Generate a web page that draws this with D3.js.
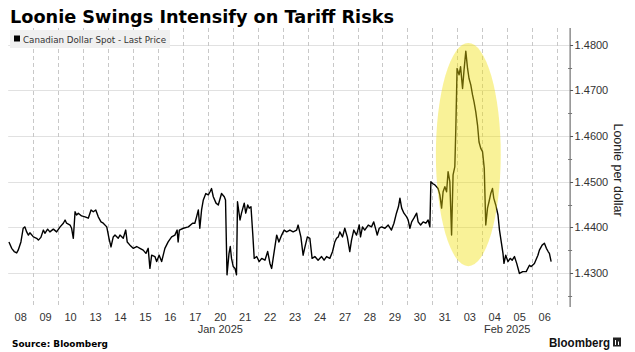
<!DOCTYPE html>
<html>
<head>
<meta charset="utf-8">
<script src="https://cdn.jsdelivr.net/npm/d3@7/dist/d3.min.js"></script>
<style>
  html, body { margin: 0; padding: 0; background: #fff; }
  svg { display: block; }
</style>
</head>
<body>
<svg id="chart" width="635" height="352"></svg>
<script>
// ---- Data ----
const title = "Loonie Swings Intensify on Tariff Risks";
const seriesName = "Canadian Dollar Spot - Last Price";
const yAxisTitle = "Loonie per dollar";
const dayLabels = ["08","09","10","13","14","15","16","17","20","21","22","23","24","27","28","29","30","31","03","04","05","06"];
const monthLabels = ["Jan 2025", "Feb 2025"];
const monthAnchor = [8.5, 20.0];          // in trading-day units
const yTicks = [1.43, 1.44, 1.45, 1.46, 1.47, 1.48];
const yMinorTicks = [1.425, 1.435, 1.445, 1.455, 1.465, 1.475];
const highlightWindow = [17.14, 19.74];   // trading-day span of highlight
const highlightRange = [1.4315, 1.4804];  // price span of highlight

// time in trading days since Jan 08 open
const dayPos = [0.03,0.14,0.24,0.34,0.40,0.51,0.60,0.67,0.74,0.81,0.87,1.01,1.14,1.21,1.31,1.41,1.47,1.58,1.67,1.81,1.94,
2.08,2.21,2.28,2.34,2.48,2.54,2.61,2.68,2.74,2.81,2.94,3.08,3.21,3.32,3.41,3.51,3.61,3.72,3.81,3.95,
4.04,4.12,4.21,4.28,4.41,4.48,4.61,4.71,4.77,4.88,5.01,5.15,5.28,5.41,5.52,5.61,5.68,5.75,5.88,5.95,
6.05,6.15,6.28,6.41,6.55,6.68,6.77,6.81,6.86,7.02,7.22,7.39,7.48,7.55,7.62,7.68,7.75,7.82,7.92,
8.02,8.09,8.15,8.22,8.33,8.42,8.55,8.66,8.71,8.77,8.85,8.90,8.95,9.02,9.09,9.15,9.19,9.29,9.35,9.46,9.52,9.60,9.66,9.73,9.80,9.86,9.96,
10.06,10.16,10.29,10.40,10.49,10.56,10.66,10.76,10.85,10.96,11.06,11.16,11.29,11.42,11.56,11.62,11.73,11.82,11.88,11.99,
12.09,12.18,12.29,12.42,12.56,12.66,12.76,12.89,13.00,13.09,13.16,13.23,13.29,13.40,13.49,13.59,13.69,13.76,13.85,13.96,
14.07,14.12,14.20,14.29,14.43,14.56,14.65,14.74,14.79,14.87,14.96,15.10,15.23,15.36,15.46,15.56,15.64,15.70,15.77,15.86,15.97,
16.03,16.10,16.17,16.26,16.37,16.43,16.53,16.63,16.74,16.83,16.90,16.94,17.01,17.10,17.23,17.30,17.37,17.43,17.50,17.57,17.63,17.70,17.77,17.83,17.90,17.94,17.99,
18.07,18.13,18.21,18.27,18.34,18.41,18.47,18.54,18.61,18.67,18.74,18.81,18.87,18.94,19.01,19.08,19.14,19.21,19.27,19.34,19.41,19.46,19.54,19.63,19.69,19.77,19.83,19.87,19.94,
20.03,20.12,20.20,20.29,20.38,20.49,20.62,20.76,20.89,20.96,21.09,21.23,21.29,21.40,21.49,21.57,21.64,21.69,21.76];

const price = [1.4368,1.4354,1.4347,1.4344,1.4350,1.4368,1.4398,1.4401,1.4390,1.4383,1.4388,1.4379,1.4376,1.4372,1.4378,1.4394,1.4387,1.4396,1.4390,1.4396,1.4390,
1.4401,1.4409,1.4416,1.4409,1.4405,1.4398,1.4376,1.4434,1.4427,1.4431,1.4425,1.4423,1.4420,1.4438,1.4434,1.4438,1.4423,1.4412,1.4409,1.4401,
1.4376,1.4357,1.4379,1.4383,1.4376,1.4383,1.4376,1.4394,1.4368,1.4361,1.4354,1.4358,1.4354,1.4350,1.4343,1.4354,1.4310,1.4339,1.4336,1.4325,
1.4339,1.4325,1.4354,1.4368,1.4379,1.4383,1.4394,1.4368,1.4394,1.4398,1.4401,1.4409,1.4409,1.4423,1.4438,1.4398,1.4438,1.4460,1.4474,
1.4471,1.4478,1.4485,1.4467,1.4453,1.4449,1.4474,1.4467,1.4460,1.4296,1.4343,1.4358,1.4332,1.4314,1.4310,1.4296,1.4456,1.4416,1.4431,1.4453,1.4431,1.4449,1.4442,1.4445,1.4387,1.4332,1.4336,
1.4325,1.4332,1.4328,1.4347,1.4321,1.4310,1.4347,1.4383,1.4368,1.4383,1.4394,1.4390,1.4394,1.4390,1.4394,1.4405,1.4379,1.4339,1.4354,1.4379,
1.4376,1.4332,1.4336,1.4328,1.4336,1.4328,1.4336,1.4332,1.4347,1.4368,1.4376,1.4379,1.4390,1.4379,1.4398,1.4379,1.4347,1.4372,1.4394,1.4383,
1.4405,1.4379,1.4401,1.4394,1.4405,1.4401,1.4412,1.4394,1.4383,1.4398,1.4401,1.4398,1.4405,1.4394,1.4409,1.4431,1.4445,1.4464,1.4442,1.4431,1.4423,
1.4416,1.4398,1.4412,1.4420,1.4431,1.4412,1.4405,1.4412,1.4409,1.4416,1.4401,1.4500,1.4496,1.4493,1.4485,1.4471,1.4442,1.4478,1.4489,1.4478,1.4522,1.4500,1.4383,1.4515,1.4533,1.4617,1.4748,
1.4734,1.4752,1.4704,1.4745,1.4786,1.4748,1.4726,1.4712,1.4690,1.4675,1.4653,1.4624,1.4587,1.4573,1.4566,1.4529,1.4405,1.4442,1.4456,1.4474,1.4485,1.4464,1.4449,1.4427,1.4394,1.4365,1.4343,1.4321,1.4339,
1.4325,1.4332,1.4328,1.4336,1.4321,1.4299,1.4303,1.4303,1.4317,1.4314,1.4321,1.4339,1.4350,1.4361,1.4365,1.4354,1.4347,1.4343,1.4325];

// ---- Layout ----
const svg = d3.select("#chart");
const plot = { left: 8.2, right: 569.6, top: 28, bottom: 307 };

const x = d3.scaleLinear().domain([0, 22.5]).range([plot.left, plot.right]);
const y = d3.scaleLinear().domain([1.42255, 1.48366]).range([plot.bottom, plot.top]);

const points = dayPos.map((t, i) => [t, price[i]]);

// Horizontal gridlines
svg.append("g").selectAll("line").data(yTicks).join("line")
  .attr("x1", plot.left).attr("x2", plot.right)
  .attr("y1", d => Math.round(y(d)) + 0.5).attr("y2", d => Math.round(y(d)) + 0.5)
  .attr("stroke", "#e1e1e1").attr("stroke-width", 1);

// Vertical dashed day separators
const seps = d3.range(1, dayLabels.length + 1);
svg.append("g").selectAll("line").data(seps).join("line")
  .attr("x1", d => Math.round(x(d)) + 0.5).attr("x2", d => Math.round(x(d)) + 0.5)
  .attr("y1", plot.top).attr("y2", plot.bottom)
  .attr("stroke", "#c8c8c8").attr("stroke-width", 1)
  .attr("stroke-dasharray", "4,3");

// Price line
svg.append("path")
  .datum(points)
  .attr("fill", "none")
  .attr("stroke", "#000")
  .attr("stroke-width", 1.4)
  .attr("stroke-linejoin", "round")
  .attr("d", d3.line().x(d => x(d[0])).y(d => y(d[1])));

// Highlight ellipse (semi-transparent, over the line)
const ex0 = x(highlightWindow[0]), ex1 = x(highlightWindow[1]);
const ey0 = y(highlightRange[1]), ey1 = y(highlightRange[0]);
svg.append("ellipse")
  .attr("cx", (ex0 + ex1) / 2).attr("cy", (ey0 + ey1) / 2)
  .attr("rx", (ex1 - ex0) / 2).attr("ry", (ey1 - ey0) / 2)
  .attr("fill", "rgb(240,225,10)").attr("fill-opacity", 0.42);

// Right axis
const axisX = plot.right + 0.5;
svg.append("line")
  .attr("x1", axisX).attr("x2", axisX)
  .attr("y1", plot.top).attr("y2", plot.bottom)
  .attr("stroke", "#555").attr("stroke-width", 1);

const yAxisG = svg.append("g");
yAxisG.selectAll("line.major").data(yTicks).join("line")
  .attr("class", "major")
  .attr("x1", axisX).attr("x2", axisX + 3)
  .attr("y1", d => Math.round(y(d)) + 0.5).attr("y2", d => Math.round(y(d)) + 0.5)
  .attr("stroke", "#555");
yAxisG.selectAll("line.minor").data(yMinorTicks).join("line")
  .attr("class", "minor")
  .attr("x1", axisX - 2).attr("x2", axisX + 2)
  .attr("y1", d => Math.round(y(d)) + 0.5).attr("y2", d => Math.round(y(d)) + 0.5)
  .attr("stroke", "#777");
yAxisG.selectAll("text").data(yTicks).join("text")
  .attr("x", axisX + 4.5)
  .attr("y", d => y(d) + 4)
  .attr("font-family", "'Liberation Sans', Arial, sans-serif")
  .attr("font-size", 11)
  .attr("fill", "#333")
  .text(d => d3.format(".4f")(d));

// Y axis title
svg.append("text")
  .attr("transform", `translate(614, 170) rotate(90)`)
  .attr("text-anchor", "middle")
  .attr("font-family", "'Liberation Sans', Arial, sans-serif")
  .attr("font-size", 12.5)
  .attr("fill", "#222")
  .text(yAxisTitle);

// X labels
svg.append("g").selectAll("text").data(dayLabels).join("text")
  .attr("x", (d, i) => x(i + 0.5))
  .attr("y", 321)
  .attr("text-anchor", "middle")
  .attr("font-family", "'Liberation Sans', Arial, sans-serif")
  .attr("font-size", 11)
  .attr("fill", "#333")
  .text(d => d);

svg.append("g").selectAll("text").data(monthLabels).join("text")
  .attr("x", (d, i) => x(monthAnchor[i]))
  .attr("y", 333)
  .attr("text-anchor", "middle")
  .attr("font-family", "'Liberation Sans', Arial, sans-serif")
  .attr("font-size", 11)
  .attr("fill", "#333")
  .text(d => d);

// Legend box
const lg = svg.append("g");
lg.append("rect").attr("x", 10).attr("y", 30).attr("width", 160).attr("height", 18)
  .attr("fill", "#f0f0f0");
lg.append("rect").attr("x", 14).attr("y", 35.5).attr("width", 6).attr("height", 6)
  .attr("fill", "#000");
lg.append("text").attr("x", 23).attr("y", 42.5)
  .attr("font-family", "'DejaVu Sans', Verdana, sans-serif")
  .attr("font-size", 9)
  .attr("fill", "#333")
  .attr("textLength", 143).attr("lengthAdjust", "spacingAndGlyphs")
  .text(seriesName);

// Title
svg.append("text")
  .attr("x", 10).attr("y", 23)
  .attr("font-family", "'DejaVu Sans', Verdana, sans-serif")
  .attr("font-weight", "bold")
  .attr("font-size", 18)
  .attr("fill", "#000")
  .attr("textLength", 384).attr("lengthAdjust", "spacingAndGlyphs")
  .text(title);

// Source
svg.append("text")
  .attr("x", 12).attr("y", 346.5)
  .attr("font-family", "'DejaVu Sans', Verdana, sans-serif")
  .attr("font-weight", "bold")
  .attr("font-size", 9)
  .attr("fill", "#000")
  .attr("textLength", 96).attr("lengthAdjust", "spacingAndGlyphs")
  .text("Source: Bloomberg");

// Bloomberg mark
svg.append("text")
  .attr("x", 549).attr("y", 346.5)
  .attr("font-family", "'Liberation Sans', Arial, sans-serif")
  .attr("font-weight", "bold")
  .attr("font-size", 12)
  .attr("fill", "#111")
  .attr("textLength", 61).attr("lengthAdjust", "spacingAndGlyphs")
  .text("Bloomberg");
svg.append("rect").attr("x", 613).attr("y", 337.5).attr("width", 8).attr("height", 9)
  .attr("fill", "#222");
svg.append("line").attr("x1", 615.5).attr("x2", 615.5).attr("y1", 340).attr("y2", 345)
  .attr("stroke", "#fff").attr("stroke-width", 1);
svg.append("line").attr("x1", 618.5).attr("x2", 618.5).attr("y1", 341.5).attr("y2", 345)
  .attr("stroke", "#fff").attr("stroke-width", 1);
</script>
</body>
</html>
